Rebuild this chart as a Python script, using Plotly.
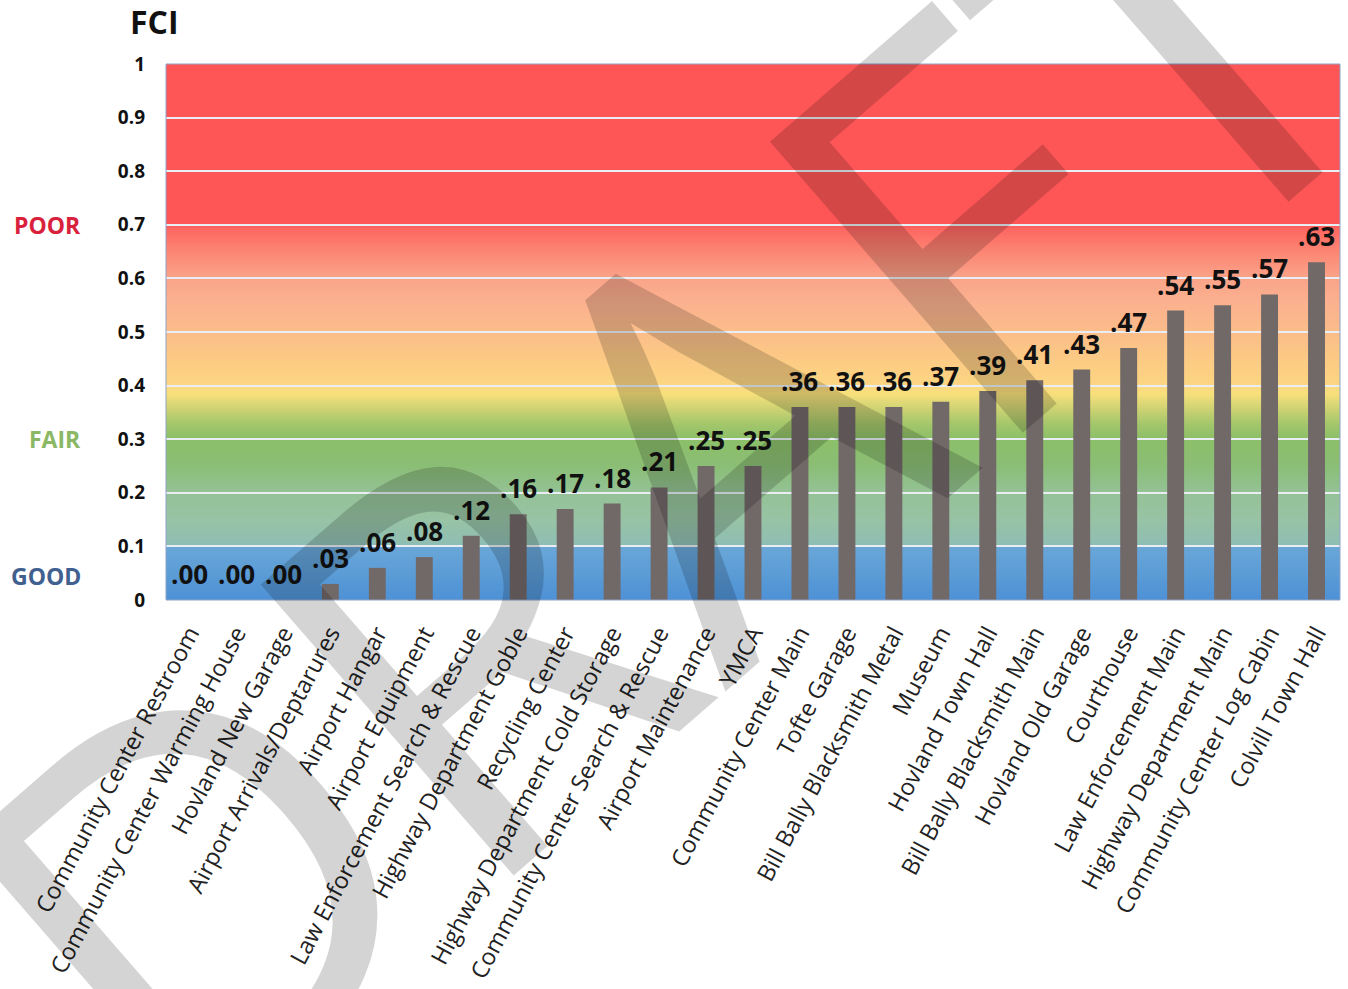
import plotly.graph_objects as go

categories = [
    "Community Center Restroom", "Community Center Warming House", "Hovland New Garage",
    "Airport Arrivals/Deptarures", "Airport Hangar", "Airport Equipment",
    "Law Enforcement Search & Rescue", "Highway Department Goble", "Recycling Center",
    "Highway Department Cold Storage", "Community Center Search & Rescue", "Airport Maintenance",
    "YMCA", "Community Center Main", "Tofte Garage", "Bill Bally Blacksmith Metal", "Museum",
    "Hovland Town Hall", "Bill Bally Blacksmith Main", "Hovland Old Garage", "Courthouse",
    "Law Enforcement Main", "Highway Department Main", "Community Center Log Cabin",
    "Colvill Town Hall",
]
fci_values = [0.00, 0.00, 0.00, 0.03, 0.06, 0.08, 0.12, 0.16, 0.17, 0.18, 0.21, 0.25, 0.25,
              0.36, 0.36, 0.36, 0.37, 0.39, 0.41, 0.43, 0.47, 0.54, 0.55, 0.57, 0.63]
y_tick_vals = [0, 0.1, 0.2, 0.3, 0.4, 0.5, 0.6, 0.7, 0.8, 0.9, 1.0]
y_tick_text = ["0", "0.1", "0.2", "0.3", "0.4", "0.5", "0.6", "0.7", "0.8", "0.9", "1"]
band_labels = ["POOR", "FAIR", "GOOD"]
band_positions = [0.7, 0.3, 0.045]
band_colors = ["#d9213b", "#8bb864", "#40608f"]

# background gradient stops (value, colour)
grad_stops = [
    (0.000, "#4d91d6"), (0.099, "#6aa7d7"), (0.100, "#8ebdb4"), (0.150, "#98c3a5"),
    (0.200, "#94c295"), (0.250, "#8bbe76"), (0.300, "#8bbf68"), (0.330, "#a6c76b"),
    (0.360, "#d3d474"), (0.385, "#f8e07c"), (0.400, "#fcd682"), (0.450, "#fcca84"),
    (0.500, "#fbbd89"), (0.550, "#fbb28f"), (0.600, "#faa48a"), (0.650, "#fc8573"),
    (0.695, "#fd6460"), (0.700, "#fe5656"), (1.000, "#fe5656"),
]

FONT = "Open Sans"
W, H = 1348, 989
L, R, T, B = 166, 8, 64, 389
PW, PH = W - L - R, H - T - B


def px2paper(x, y):
    return (x - L) / PW, (H - B - y) / PH


def hex2rgb(h):
    h = h.lstrip("#")
    return tuple(int(h[i:i + 2], 16) for i in (0, 2, 4))


def color_at(v):
    for (v0, c0), (v1, c1) in zip(grad_stops[:-1], grad_stops[1:]):
        if v0 <= v <= v1:
            t = 0 if v1 == v0 else (v - v0) / (v1 - v0)
            a, b = hex2rgb(c0), hex2rgb(c1)
            return "rgb(%d,%d,%d)" % tuple(round(a[i] + (b[i] - a[i]) * t) for i in range(3))
    return grad_stops[-1][1]


shapes = []
n = 268
for i in range(n):
    y0 = i / n
    y1 = min(1.0, (i + 1) / n + 0.004)
    shapes.append(dict(type="rect", xref="paper", yref="y", x0=0, x1=1, y0=y0, y1=y1,
                       fillcolor=color_at((i + 0.5) / n), line=dict(width=0), layer="below"))
shapes.append(dict(type="rect", xref="paper", yref="paper", x0=0, x1=1, y0=0, y1=1,
                   line=dict(color="#8ea3c6", width=1), fillcolor="rgba(0,0,0,0)", layer="above"))

fig = go.Figure()
fig.add_trace(go.Bar(x=categories, y=fci_values, marker=dict(color="#716868", line=dict(width=0)),
                     hoverinfo="x+y"))

annotations = []
for c, v in zip(categories, fci_values):
    annotations.append(dict(x=c, y=v, xref="x", yref="y", text=("%.2f" % v)[1:],
                            showarrow=False, yanchor="middle", yshift=26,
                            font=dict(family=FONT, size=26, color="#111111", weight="bold")))
for lab, pos, col in zip(band_labels, band_positions, band_colors):
    annotations.append(dict(x=px2paper(83, 0)[0], y=pos, xref="paper", yref="y",
                            xanchor="right", yanchor="middle", text=lab, showarrow=False,
                            font=dict(family=FONT, size=23, color=col, weight="bold")))
tx, ty = px2paper(154, 22)
annotations.append(dict(x=tx, y=ty, xref="paper", yref="paper", text="FCI", showarrow=False,
                        xanchor="center", yanchor="middle",
                        font=dict(family=FONT, size=32, color="#111111", weight="bold")))

# watermark
wx, wy = px2paper(660, 470)
annotations.append(dict(x=wx, y=wy, xref="paper", yref="paper",
                        text="DRAFT", showarrow=False, textangle=-41, xanchor="center",
                        yanchor="middle",
                        font=dict(family=FONT, size=540, color="rgba(0,0,0,0.17)")))

fig.update_layout(
    width=W, height=H,
    margin=dict(l=L, r=R, t=T, b=B, autoexpand=False),
    paper_bgcolor="white", plot_bgcolor="rgba(0,0,0,0)",
    bargap=0.64, showlegend=False,
    shapes=shapes, annotations=annotations,
    font=dict(family=FONT),
)
fig.update_xaxes(tickangle=-62, tickfont=dict(family=FONT, size=23.5, color="#222222"),
                 showgrid=False, showline=False, ticks="", ticklabelstandoff=14,
                 automargin=False)
fig.update_yaxes(range=[0, 1], tickvals=y_tick_vals, ticktext=y_tick_text,
                 tickfont=dict(family=FONT, size=19, color="#111111", weight="bold"),
                 showgrid=True, gridcolor="#e8eef4", gridwidth=2, zeroline=False,
                 ticklabelstandoff=20, showline=False, automargin=False)

fig.write_html("out.html")
